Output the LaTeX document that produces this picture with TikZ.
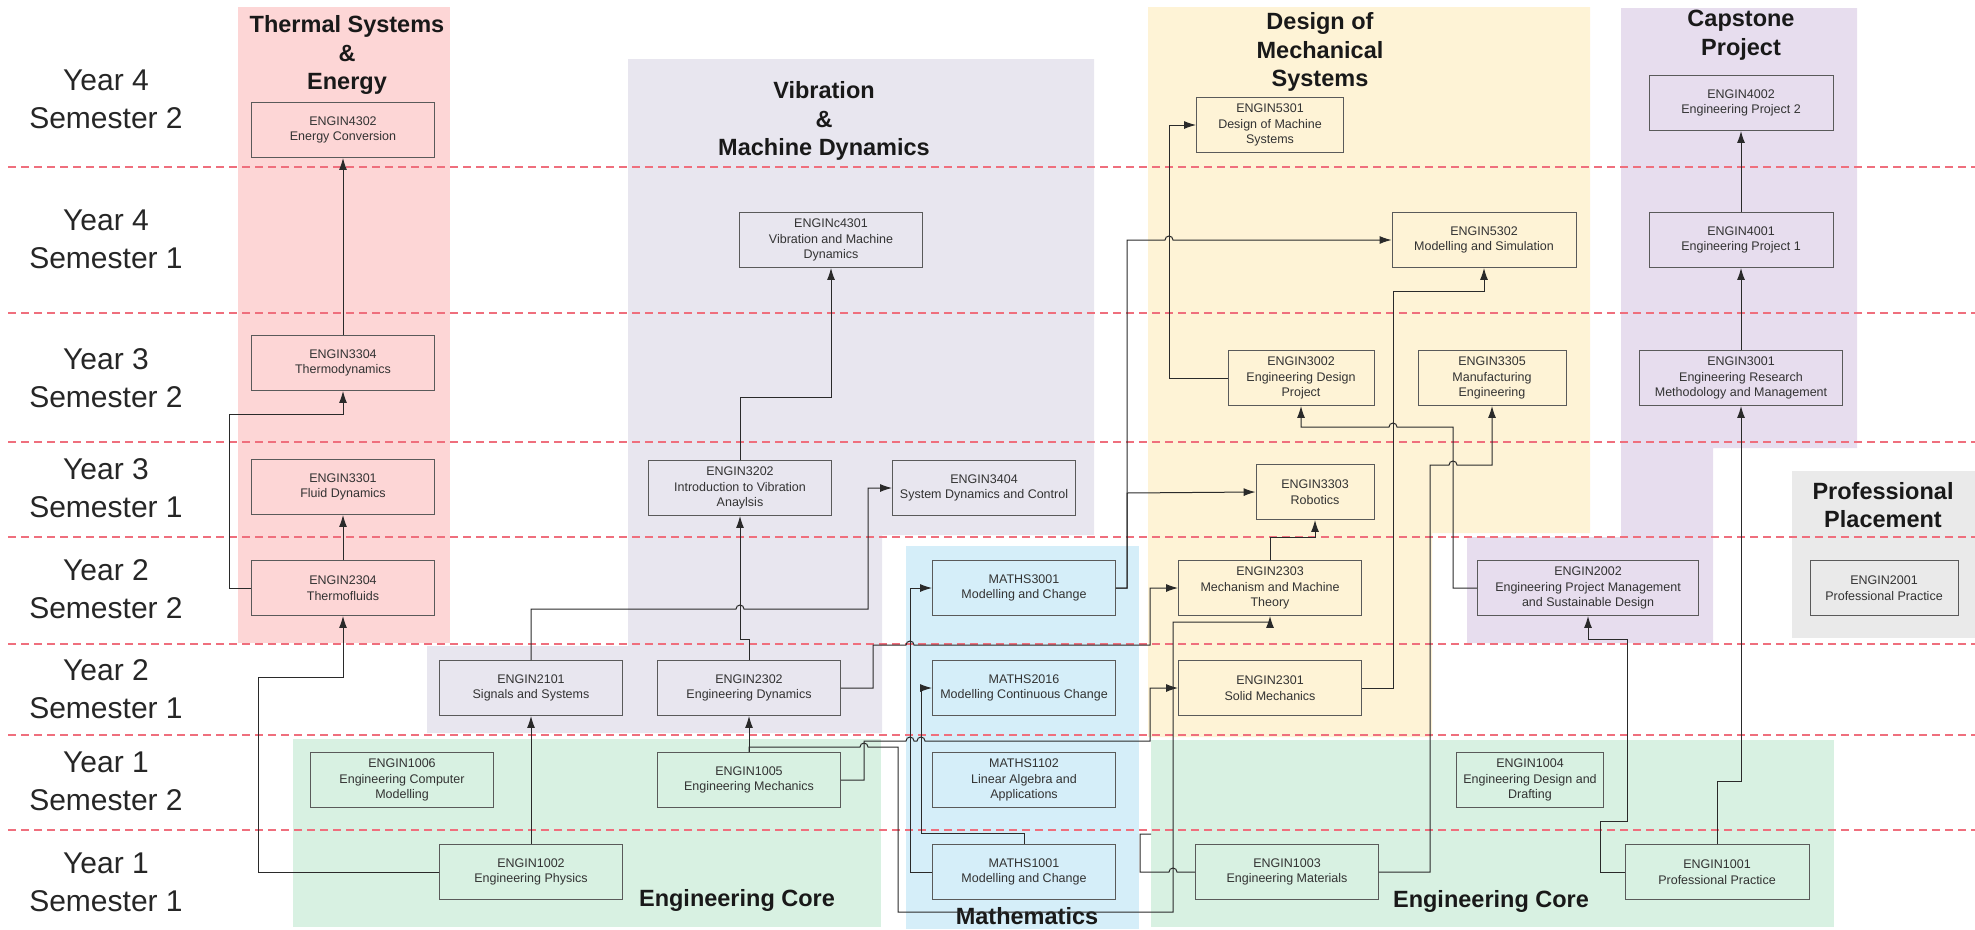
\documentclass[tikz,border=0pt]{standalone}
\usepackage{fontspec}
\setmainfont{Liberation Sans}
\usetikzlibrary{arrows.meta}
\definecolor{pinkbg}{HTML}{FDD6D6}
\definecolor{lavbg}{HTML}{E8E6EF}
\definecolor{yelbg}{HTML}{FEF3D6}
\definecolor{purbg}{HTML}{E7DDEE}
\definecolor{bluebg}{HTML}{D5EEF9}
\definecolor{grnbg}{HTML}{D8F1E2}
\definecolor{graybg}{HTML}{EAEAEA}
\definecolor{sepred}{HTML}{EF6F7D}
\definecolor{boxline}{HTML}{5A5A5A}
\definecolor{conn}{HTML}{2A2A2A}
\definecolor{txt}{HTML}{333333}
\tikzset{
 course/.style={draw=boxline, line width=0.9pt, minimum width=183pt, minimum height=55pt, inner sep=0pt, align=center, font=\fontsize{12.5}{15.5}\selectfont, text=txt},
 link/.style={draw=conn, line width=1pt, -{Latex[length=12pt,width=8pt]}},
 plainlink/.style={draw=conn, line width=1pt},
 sepline/.style={draw=sepred, line width=1.3pt, dash pattern=on 8pt off 5pt},
 rowlab/.style={align=center, font=\fontsize{30}{38}\selectfont, text=black!85},
 grouptitle/.style={align=center, font=\bfseries\fontsize{23.5}{28.5}\selectfont, text=black!90},
}
\begin{document}
\begin{tikzpicture}[x=1pt,y=-1pt]
\useasboundingbox (0,0) rectangle (1975,929);
% backgrounds
\fill[pinkbg] (238,7) rectangle (450,643);
\fill[lavbg] (628,59) -- (1094,59) -- (1094,535) -- (882,535) -- (882,733) -- (427,733) -- (427,646) -- (628,646) -- cycle;
\fill[yelbg] (1148,7) -- (1590,7) -- (1590,533) -- (1432,533) -- (1432,737) -- (1148,737) -- cycle;
\fill[purbg] (1621,8) -- (1857,8) -- (1857,448) -- (1713,448) -- (1713,643) -- (1467,643) -- (1467,537) -- (1621,537) -- cycle;
\fill[bluebg] (906,546) rectangle (1139,929);
\fill[grnbg] (293,739) rectangle (881,927);
\fill[grnbg] (1151,740) rectangle (1834,927);
\fill[graybg] (1792,471) rectangle (1975,638);
% separators
\foreach \yy in {167,313,442,537,644,735,830}{\draw[sepline] (8,\yy) -- (1975,\yy);}
% row labels
\node[rowlab] (r1) at (106,99) {Year 4\\Semester 2};
\node[rowlab] (r2) at (106,239) {Year 4\\Semester 1};
\node[rowlab] (r3) at (106,378) {Year 3\\Semester 2};
\node[rowlab] (r4) at (106,488) {Year 3\\Semester 1};
\node[rowlab] (r5) at (106,589) {Year 2\\Semester 2};
\node[rowlab] (r6) at (106,689) {Year 2\\Semester 1};
\node[rowlab] (r7) at (106,781) {Year 1\\Semester 2};
\node[rowlab] (r8) at (106,882) {Year 1\\Semester 1};
% group titles
\node[grouptitle] (tThermal) at (347,55) {Thermal Systems\\\&\\Energy};
\node[grouptitle] (tVib) at (824,121) {Vibration\\\&\\Machine Dynamics};
\node[grouptitle] (tDesign) at (1320,52) {Design of\\Mechanical\\Systems};
\node[grouptitle] (tCap) at (1741,35) {Capstone\\Project};
\node[grouptitle] (tProf) at (1883,505) {Professional\\Placement};
\node[grouptitle] (tCoreL) at (737,900) {Engineering Core};
\node[grouptitle] (tMath) at (1027,916) {Mathematics};
\node[grouptitle] (tCoreR) at (1491,901) {Engineering Core};
% courses
\node[course] (e4302) at (343,130) {ENGIN4302\\Energy Conversion};
\node[course] (e3304) at (343,363) {ENGIN3304\\Thermodynamics};
\node[course] (e3301) at (343,487) {ENGIN3301\\Fluid Dynamics};
\node[course] (e2304) at (343,588) {ENGIN2304\\Thermofluids};
\node[course] (e2101) at (531,688) {ENGIN2101\\Signals and Systems};
\node[course] (e1002) at (531,872) {ENGIN1002\\Engineering Physics};
\node[course] (e1006) at (402,780) {ENGIN1006\\Engineering Computer\\Modelling};
\node[course] (ec4301) at (831,240) {ENGINc4301\\Vibration and Machine\\Dynamics};
\node[course] (e3202) at (740,488) {ENGIN3202\\Introduction to Vibration\\Anaylsis};
\node[course] (e3404) at (984,488) {ENGIN3404\\System Dynamics and Control};
\node[course] (e2302) at (749,688) {ENGIN2302\\Engineering Dynamics};
\node[course] (e1005) at (749,780) {ENGIN1005\\Engineering Mechanics};
\node[course] (m3001) at (1024,588) {MATHS3001\\Modelling and Change};
\node[course] (m2016) at (1024,688) {MATHS2016\\Modelling Continuous Change};
\node[course] (m1102) at (1024,780) {MATHS1102\\Linear Algebra and\\Applications};
\node[course] (m1001) at (1024,872) {MATHS1001\\Modelling and Change};
\node[course, minimum width=147pt] (e5301) at (1270,125) {ENGIN5301\\Design of Machine\\Systems};
\node[course, minimum width=184pt] (e5302) at (1484,240) {ENGIN5302\\Modelling and Simulation};
\node[course, minimum width=146pt] (e3002) at (1301,378) {ENGIN3002\\Engineering Design\\Project};
\node[course, minimum width=148pt] (e3305) at (1492,378) {ENGIN3305\\Manufacturing\\Engineering};
\node[course, minimum width=118pt] (e3303) at (1315,492) {ENGIN3303\\Robotics};
\node[course] (e2303) at (1270,588) {ENGIN2303\\Mechanism and Machine\\Theory};
\node[course] (e2301) at (1270,688) {ENGIN2301\\Solid Mechanics};
\node[course] (e1003) at (1287,872) {ENGIN1003\\Engineering Materials};
\node[course, minimum width=184pt] (e4002) at (1741,103) {ENGIN4002\\Engineering Project 2};
\node[course, minimum width=184pt] (e4001) at (1741,240) {ENGIN4001\\Engineering Project 1};
\node[course, minimum width=203pt] (e3001) at (1741,378) {ENGIN3001\\Engineering Research\\Methodology and Management};
\node[course, minimum width=221pt] (e2002) at (1588,588) {ENGIN2002\\Engineering Project Management\\and Sustainable Design};
\node[course, minimum width=147pt] (e1004) at (1530,780) {ENGIN1004\\Engineering Design and\\Drafting};
\node[course, minimum width=184pt] (e1001) at (1717,872) {ENGIN1001\\Professional Practice};
\node[course, minimum width=148pt] (e2001) at (1884,588) {ENGIN2001\\Professional Practice};
% connectors
\draw[link] (e3304.north) -- (e4302.south);
\draw[link] (e2304.west) -| (229,414) -| (e3304.south);
\draw[link] (e2304.north) -- (e3301.south);
\draw[link] (e1002.west) -| (258,677) -| (e2304.south);
\draw[link] (e1002.north) -- (e2101.south);
\draw[link] (e2101.north) -- (531,609) -- (736,609) arc[start angle=180,end angle=0,radius=4pt] -- (868,609) |- (e3404.west);
\draw[link] (e2302.north) |- (740,639) -- (e3202.south);
\draw[link] (e3202.north) -- (740,397) -| (ec4301.south);
\draw[link] (e1005.north) -- (e2302.south);
\draw[link] (e1005.north) -- (749,747) -- (860,747) arc[start angle=180,end angle=0,radius=4pt] -- (898,747) -- (898,912) -- (1173,912) -- (1173,622) -| (e2303.south);
\draw[link] (e1005.east) -| (864,741) -- (906,741) arc[start angle=180,end angle=0,radius=4pt] -- (917,741) arc[start angle=180,end angle=0,radius=4pt] -- (1150,741) |- (e2301.west);
\draw[link] (e2302.east) -| (873,645) -- (906,645) arc[start angle=180,end angle=0,radius=4pt] -- (1150,645) |- (e2303.west);
\draw[link] (m1001.west) -| (910,588) -- (m3001.west);
\draw[link] (m1001.north) |- (921,833) |- (m2016.west);
\draw[link] (m3001.east) -| (1127,493) -- (e3303.west);
\draw[link] (m3001.east) -| (1127,240) -- (1165,240) arc[start angle=180,end angle=0,radius=4pt] -- (e5302.west);
\draw[link] (e2303.north) -- (1270,537) -| (e3303.south);
\draw[link] (e3002.west) -| (1169,125) -- (e5301.west);
\draw[link] (e2301.east) -| (1393,291) -| (e5302.south);
\draw[link] (e1003.east) -| (1430,465) -- (1449,465) arc[start angle=180,end angle=0,radius=4pt] -| (e3305.south);
\draw[link] (e2002.west) -| (1453,427) -- (1397,427) arc[start angle=0,end angle=180,radius=4pt] -| (e3002.south);
\draw[plainlink] (e1003.west) -- (1177,872) arc[start angle=0,end angle=180,radius=4pt] -- (1140,872) -- (1140,834) -- (1151,834);
\draw[link] (e3001.north) -- (e4001.south);
\draw[link] (e4001.north) -- (e4002.south);
\draw[link] (e1001.north) -- (1717,781) -| (e3001.south);
\draw[link] (e1001.west) -| (1600,821) -| (1627,639) -| (e2002.south);
\end{tikzpicture}
\end{document}
